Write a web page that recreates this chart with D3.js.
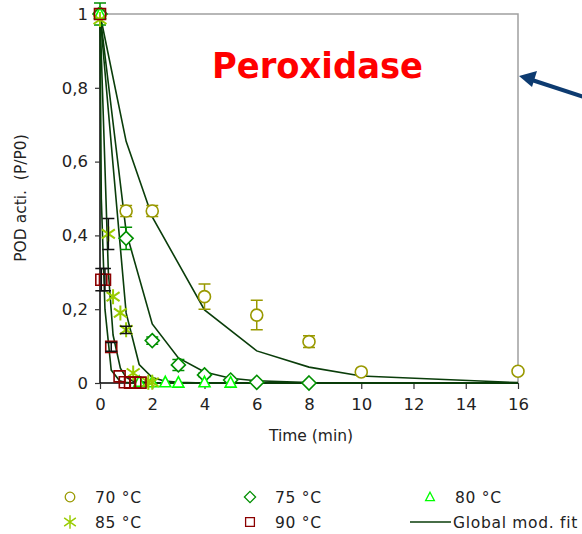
<!DOCTYPE html>
<html><head><meta charset="utf-8">
<script src="https://cdn.jsdelivr.net/npm/d3@7"></script>
<style>body{margin:0;background:#fff}svg{display:block}text{font-family:"DejaVu Sans",Verdana,sans-serif;fill:#222}</style>
</head><body>
<svg id="c" width="582" height="534"></svg>
<script>
// ---- data ----
const xTicks = [0,2,4,6,8,10,12,14,16];
const yTicks = [0,0.2,0.4,0.6,0.8,1];
const yTickLabels = ["0","0,2","0,4","0,6","0,8","1"];

const t70 = [0,1,2,4,6,8,10,16];
const v70 = [1,0.466,0.466,0.234,0.184,0.112,0.03,0.032];
const e70 = [0,0.015,0.015,0.034,0.04,0.016,0.004,0.005];
const f70 = [1,0.655,0.45,0.198,0.087,0.043,0.019,0.001];

const t75 = [0,1,2,3,4,5,6,8];
const v75 = [1,0.392,0.115,0.049,0.022,0.008,0.002,0];
const e75 = [0.03,0.03,0.01,0.015,0.005,0.003,0,0];
const ft75 = [0,1,2,3,4,5,6,8,16];
const f75 = [1,0.41,0.16,0.068,0.03,0.013,0.006,0.001,0];

const t80 = [0,1.5,2,2.5,3,4,5];
const v80 = [1,0.003,0.002,0.002,0.001,0.002,0.001];
const ft80 = [0,0.5,1,1.5,2,2.5,3,4,5,16];
const f80 = [1,0.59,0.19,0.05,0.015,0.005,0.002,0,0,0];

const t85 = [0,0.32,0.5,0.78,1.0,1.27,1.85,2.0];
const v85 = [0.985,0.404,0.234,0.19,0.144,0.027,0.002,0.002];
const e85 = [0,0.042,0,0,0.01,0,0,0];
const ft85 = [0,0.32,0.5,0.78,1.0,1.27,1.9,2.0,16];
const f85 = [1,0.3,0.13,0.04,0.015,0.005,0.001,0,0];

const t90 = [0,0.05,0.19,0.43,0.75,0.95,1.15,1.35,1.55];
const v90 = [1,0.28,0.28,0.098,0.018,0.002,0.001,0.001,0.001];
const e90 = [0,0.03,0.03,0.012,0,0,0,0,0];
const ft90 = [0,0.05,0.19,0.43,0.75,0.95,1.15,1.35,1.55,16];
const f90 = [1,0.5,0.2,0.035,0.006,0.002,0.0005,0,0,0];

const legendLabels = ["70 °C","75 °C","80 °C","85 °C","90 °C","Global mod. fit"];
const titleText = "Peroxidase";

// ---- layout ----
const svg = d3.select("#c");
const L=100,R=518,T=14,B=383;
const x = d3.scaleLinear().domain([0,16]).range([L,R]);
const y = d3.scaleLinear().domain([0,1]).range([B,T]);

const C70="#999900",C75="#008f00",C80="#00ff00",C85="#99cc00",C90="#8b0000",CFIT="#0a3d0a";

// frame (top/right gray)
svg.append("path").attr("d",`M${L},${T}H${R}V${B}`).attr("fill","none").attr("stroke","#a0a0a0").attr("stroke-width",1.5);

// axes
const yAxis = d3.axisLeft(y).tickValues(yTicks).tickFormat((d,i)=>yTickLabels[i]).tickSize(5).tickPadding(7);
const gy = svg.append("g").attr("transform",`translate(${L},0)`).call(yAxis);
const xAxis = d3.axisBottom(x).tickValues(xTicks).tickSize(6).tickPadding(9);
const gx = svg.append("g").attr("transform",`translate(0,${B})`).call(xAxis);
[gx,gy].forEach(g=>{
  g.select(".domain").attr("stroke","#000").attr("stroke-width",1.5);
  g.selectAll(".tick line").attr("stroke","#333").attr("stroke-width",1.2);
  g.selectAll(".tick text").attr("font-size",16.5).attr("font-family","DejaVu Sans").attr("fill","#222");
});
gx.select(".domain").attr("d",`M${L},0H${R}`);
gy.select(".domain").attr("d",`M0,${B}V${T}`);

svg.append("text").attr("x",(L+R)/2+2).attr("y",441).attr("text-anchor","middle").attr("font-size",15.5).text("Time (min)");
svg.append("text").attr("transform","translate(26,198) rotate(-90)").attr("text-anchor","middle").attr("font-size",15.5).attr("xml:space","preserve").text("POD acti.  (P/P0)");

// fit lines
const line = d3.line().x(d=>x(d[0])).y(d=>y(d[1]));
const fits = [[t70,f70],[ft75,f75],[ft80,f80],[ft85,f85],[ft90,f90]];
fits.forEach(([tt,ff])=>{
  svg.append("path").datum(tt.map((t,i)=>[t,ff[i]])).attr("d",line)
    .attr("fill","none").attr("stroke",CFIT).attr("stroke-width",1.6);
});

// error bars
function errBars(tt,vv,ee,col){
  const g=svg.append("g").attr("stroke",col).attr("stroke-width",1.5).attr("fill","none");
  tt.forEach((t,i)=>{
    const e=ee[i]; if(!e) return;
    const cx=x(t), y1=y(vv[i]+e), y2=y(vv[i]-e);
    g.append("path").attr("d",`M${cx},${y1}V${y2}M${cx-6},${y1}H${cx+6}M${cx-6},${y2}H${cx+6}`);
  });
}

// markers
const shapes = {
  circle:(cx,cy)=>`M${cx+6},${cy}A6,6 0 1,1 ${cx-6},${cy}A6,6 0 1,1 ${cx+6},${cy}Z`,
  diamond:(cx,cy)=>`M${cx},${cy-7}L${cx+7},${cy}L${cx},${cy+7}L${cx-7},${cy}Z`,
  triangle:(cx,cy)=>`M${cx},${cy-6}L${cx+5.5},${cy+4.5}L${cx-5.5},${cy+4.5}Z`,
  square:(cx,cy)=>`M${cx-5.5},${cy-5.5}h11v11h-11Z`,
  star:(cx,cy)=>`M${cx},${cy-7.5}V${cy+7.5}M${cx-6.5},${cy-4.5}L${cx+6.5},${cy+4.5}M${cx-6.5},${cy+4.5}L${cx+6.5},${cy-4.5}`
};
function markers(tt,vv,shape,col,sw,fill){
  const g=svg.append("g");
  tt.forEach((t,i)=>{
    g.append("path").attr("d",shapes[shape](x(t),y(vv[i]))).attr("fill",fill).attr("stroke",col).attr("stroke-width",sw);
  });
}
errBars(t70,v70,e70,C70);
markers(t70,v70,"circle",C70,1.6,"#fff");
errBars(t75,v75,e75,C75);
markers(t75,v75,"diamond",C75,1.6,"#fff");
markers(t80,v80,"triangle",C80,1.6,"#fff");
markers(t85,v85,"star",C85,2,"none");
errBars(t85,v85,e85,"#111");
markers(t90,v90,"square",C90,1.6,"none");
errBars(t90,v90,e90,"#111");

// title
svg.append("text").attr("x",212).attr("y",78).attr("font-family","Liberation Sans, Arial, sans-serif").attr("font-weight","bold").attr("font-size",36)
  .attr("textLength",211).attr("lengthAdjust","spacingAndGlyphs").style("fill","#ff0000").text(titleText);

// arrow
svg.append("path").attr("d","M584,97L532,80").attr("stroke","#0d3b70").attr("stroke-width",4).attr("fill","none");
svg.append("path").attr("d","M519,76L537,71L532,87Z").attr("fill","#0d3b70");

// legend
const leg = [
  {s:"circle",c:C70,x:70,y:497},{s:"diamond",c:C75,x:250,y:497},{s:"triangle",c:C80,x:430,y:497},
  {s:"star",c:C85,x:70,y:522},{s:"square",c:C90,x:250,y:522},{s:"line",c:CFIT,x:430,y:522}
];
leg.forEach((d,i)=>{
  if(d.s==="line"){
    svg.append("path").attr("d",`M${d.x-20},${d.y}H${d.x+21}`).attr("stroke",d.c).attr("stroke-width",1.6);
    svg.append("text").attr("x",d.x+23).attr("y",d.y+5.5).attr("font-size",15.5).attr("letter-spacing",0.7).text(legendLabels[i]);
  } else {
    const k = d.s==="star"?0.9:0.8;
    svg.append("path").attr("d",shapes[d.s](0,0)).attr("transform",`translate(${d.x},${d.y}) scale(${k})`)
      .attr("fill","none").attr("stroke",d.c).attr("stroke-width",1.6);
    svg.append("text").attr("x",d.x+25).attr("y",d.y+5.5).attr("font-size",15.5).attr("letter-spacing",0.7).attr("xml:space","preserve").text(legendLabels[i]);
  }
});
</script>
</body></html>
